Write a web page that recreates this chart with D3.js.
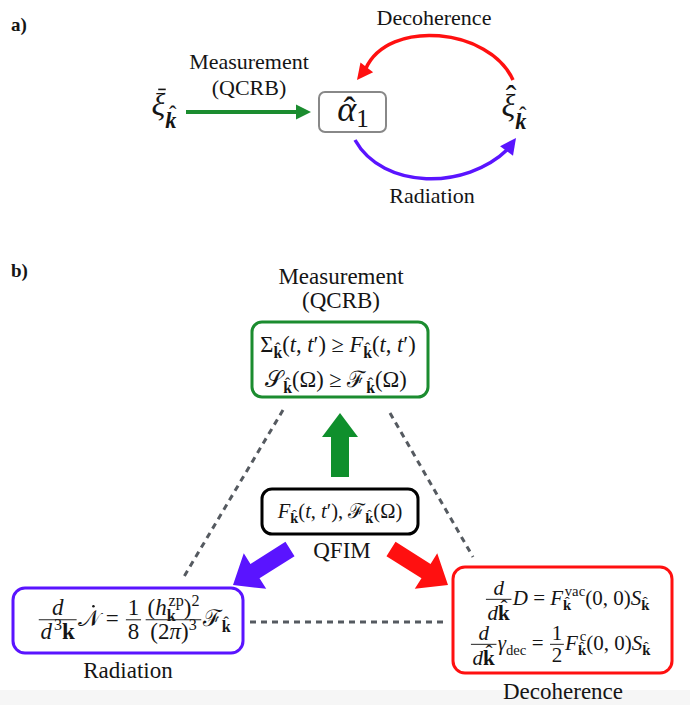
<!DOCTYPE html>
<html>
<head>
<meta charset="utf-8">
<script src="https://cdn.jsdelivr.net/npm/d3@7"></script>
<style>
body { margin: 0; background: #fff; }
svg { display: block; }
text { font-family: "Liberation Serif", "Times New Roman", serif; fill: #151515; white-space: pre; }
</style>
</head>
<body>
<svg width="690" height="705"></svg>
<script>
// labels
const panelLabels = ['a)', 'b)'];
const flowLabels = ['Measurement', '(QCRB)', 'Decoherence', 'Radiation'];
const qfimLabel = 'QFIM';

// subscript pieces
const K = [{s: 'k', b: true, hat: true}];
const Kb = [{s: 'k', b: true}];
const Kit = [{s: 'k', b: true, it: true, hat: true, hatDy: -0.28}];

// panel a symbols
const symAlpha = [{s: 'α', it: true, hat: true, hatDy: 0.02, sub: [{s: '1'}], subDy: 0.16}];
const symXiBar = [{s: 'ξ', it: true, bar: true, sub: Kit, subDy: 0.42}];
const symXiHat = [{s: 'ξ', it: true, hat: true, hatDy: -0.29, sub: Kit, subDy: 0.42}];

// panel b equations
const eqMeasure1 = [
  {s: 'Σ', sub: K}, {s: '('}, {s: 't', it: true}, {s: ', '}, {s: 't', it: true}, {s: '′)'}, {s: ' ≥ '},
  {s: 'F', it: true, sub: K}, {s: '('}, {s: 't', it: true}, {s: ', '}, {s: 't', it: true}, {s: '′)'}
];
const eqMeasure2 = [{s: '𝒮', sub: K}, {s: '(Ω) ≥ '}, {s: 'ℱ', sub: K}, {s: '(Ω)'}];
const eqQfim = [
  {s: 'F', it: true, sub: K}, {s: '('}, {s: 't', it: true}, {s: ', '}, {s: 't', it: true}, {s: '′), '},
  {s: 'ℱ', sub: K}, {s: '(Ω)'}
];
const eqRadiation = [
  {frac: [[{s: 'd', it: true}], [{s: 'd', it: true, sup: [{s: '3'}]}, {s: 'k', b: true}]]},
  {s: '𝒩', dot: true}, {s: ' = '},
  {frac: [[{s: '1'}], [{s: '8'}]]}, {sp: 0.08},
  {frac: [[{s: '('}, {s: 'h', it: true, sub: Kb, sup: [{s: 'zp'}]}, {s: ')', sup: [{s: '2'}]}],
          [{s: '(2'}, {s: 'π', it: true}, {s: ')', sup: [{s: '3'}]}]]},
  {s: 'ℱ', sub: K}
];
const eqDecoh1 = [
  {frac: [[{s: 'd', it: true}], [{s: 'd', it: true}, {s: 'k', b: true, hat: true}]], dd: 0.15},
  {s: 'D', it: true}, {s: ' = '},
  {s: 'F', it: true, sub: K, sup: [{s: 'vac'}]}, {s: '(0, 0)'}, {s: 'S', it: true, sub: K}
];
const eqDecoh2 = [
  {frac: [[{s: 'd', it: true}], [{s: 'd', it: true}, {s: 'k', b: true, hat: true}]], dd: 0.15},
  {s: 'γ', it: true, sub: [{s: 'dec'}]}, {s: ' = '},
  {frac: [[{s: '1'}], [{s: '2'}]]},
  {s: 'F', it: true, sub: K, sup: [{s: 'c'}]}, {s: '(0, 0)'}, {s: 'S', it: true, sub: K}
];

const GREEN = '#1b8c2f', PURPLE = '#5a14ff', RED = '#ff1010';

const svg = d3.select('svg');
svg.append('rect').attr('x', 0).attr('y', 690).attr('width', 690).attr('height', 15).attr('fill', '#f6f6f6');

// tiny math typesetter: draws tokens on baseline 0, returns width
function typeset(g, toks, fs) {
  let x = 0;
  toks.forEach(tk => {
    if (tk.sp) { x += tk.sp * fs; return; }
    if (tk.frac) {
      const ng = g.append('g'), dg = g.append('g');
      const nw = typeset(ng, tk.frac[0], fs), dw = typeset(dg, tk.frac[1], fs);
      const w = Math.max(nw, dw) + fs * 0.16;
      x += fs * 0.06;
      ng.attr('transform', `translate(${x + (w - nw) / 2},${-fs * 0.47})`);
      dg.attr('transform', `translate(${x + (w - dw) / 2},${fs * (0.58 + (tk.dd || 0))})`);
      g.append('line').attr('x1', x).attr('x2', x + w)
        .attr('y1', -fs * 0.27).attr('y2', -fs * 0.27)
        .attr('stroke', '#222').attr('stroke-width', Math.max(1, fs * 0.045));
      x += w + fs * 0.06;
      return;
    }
    const t = g.append('text').attr('x', x).attr('y', 0).attr('font-size', fs).text(tk.s);
    if (tk.it) t.style('font-style', 'italic');
    if (tk.b) t.style('font-weight', 'bold');
    const w = t.node().getComputedTextLength();
    const off = tk.it ? fs * 0.08 : 0;
    if (tk.hat) {
      g.append('text').attr('x', x + w / 2 + off).attr('y', (tk.hatDy ?? -0.24) * fs)
        .attr('font-size', fs).attr('text-anchor', 'middle').text('ˆ');
    }
    if (tk.dot) {
      g.append('circle').attr('cx', x + w * 0.7).attr('cy', -0.86 * fs).attr('r', fs * 0.055).attr('fill', '#151515');
    }
    if (tk.bar) {
      g.append('line').attr('x1', x + w * 0.3 + off).attr('x2', x + w * 0.85 + off)
        .attr('y1', -fs * 0.8).attr('y2', -fs * 0.8).attr('stroke', '#151515').attr('stroke-width', fs * 0.05);
    }
    x += w;
    let ext = 0;
    if (tk.sub) {
      const sg = g.append('g').attr('transform', `translate(${x},${(tk.subDy ?? 0.25) * fs})`);
      ext = typeset(sg, tk.sub, fs * 0.7);
    }
    if (tk.sup) {
      const pg = g.append('g').attr('transform', `translate(${x + off},${-0.42 * fs})`);
      ext = Math.max(ext, typeset(pg, tk.sup, fs * 0.7) + off);
    }
    x += ext;
  });
  return x;
}

function drawEq(toks, fs, cx, base) {
  const g = svg.append('g');
  const w = typeset(g, toks, fs);
  g.attr('transform', `translate(${cx - w / 2},${base})`);
}

function label(txt, x, y, fs, bold) {
  svg.append('text').attr('x', x).attr('y', y).attr('font-size', fs)
    .attr('text-anchor', bold ? 'start' : 'middle')
    .style('font-weight', bold ? 'bold' : 'normal').text(txt);
}

function box(x0, y0, x1, y1, color, r, sw) {
  svg.append('rect').attr('x', x0).attr('y', y0).attr('width', x1 - x0).attr('height', y1 - y0)
    .attr('rx', r).attr('fill', '#fff').attr('stroke', color).attr('stroke-width', sw);
}

function head(tip, from, len, hw, color) {
  const dx = tip[0] - from[0], dy = tip[1] - from[1], L = Math.hypot(dx, dy);
  const ux = dx / L, uy = dy / L, px = -uy, py = ux;
  const bx = tip[0] - ux * len, by = tip[1] - uy * len;
  svg.append('path').attr('fill', color)
    .attr('d', d3.line()([[tip[0], tip[1]], [bx + px * hw, by + py * hw], [bx - px * hw, by - py * hw]]) + 'Z');
  return [bx + ux * 2, by + uy * 2];
}

function blockArrow(tail, tip, sw, hw, hl, color) {
  const dx = tip[0] - tail[0], dy = tip[1] - tail[1], L = Math.hypot(dx, dy);
  const ux = dx / L, uy = dy / L, px = -uy, py = ux;
  const b = [tip[0] - ux * hl, tip[1] - uy * hl];
  const pts = [
    [tail[0] + px * sw / 2, tail[1] + py * sw / 2], [b[0] + px * sw / 2, b[1] + py * sw / 2],
    [b[0] + px * hw / 2, b[1] + py * hw / 2], tip,
    [b[0] - px * hw / 2, b[1] - py * hw / 2], [b[0] - px * sw / 2, b[1] - py * sw / 2],
    [tail[0] - px * sw / 2, tail[1] - py * sw / 2]
  ];
  svg.append('path').attr('fill', color).attr('d', d3.line()(pts) + 'Z');
}

// ---------- panel a ----------
label(panelLabels[0], 11, 31, 19, true);
label(flowLabels[0], 249, 69, 22);
label(flowLabels[1], 249, 95, 22);
label(flowLabels[2], 434, 25, 22);
label(flowLabels[3], 432, 203, 22);

// green straight arrow
const gEnd = head([311, 112], [186, 112], 15, 7.5, GREEN);
svg.append('line').attr('x1', 186).attr('x2', gEnd[0]).attr('y1', 112).attr('y2', 112)
  .attr('stroke', GREEN).attr('stroke-width', 4);

// decoherence arc (red) and radiation arc (purple)
const rC2 = [388, 40];
const rEnd = head([357, 80], rC2, 16, 8, RED);
svg.append('path').attr('fill', 'none').attr('stroke', RED).attr('stroke-width', 3.5)
  .attr('d', `M513,80 C490,28 ${rC2[0]},${rC2[1] - 22} ${rEnd[0]},${rEnd[1]}`);
const pC2 = [494, 168];
const pEnd = head([516, 138], pC2, 16, 8, PURPLE);
svg.append('path').attr('fill', 'none').attr('stroke', PURPLE).attr('stroke-width', 3.5)
  .attr('d', `M355,140 C383,190 ${pC2[0] - 28},${pC2[1] + 22} ${pEnd[0]},${pEnd[1]}`);

box(319, 92, 386, 132, '#888', 6, 2);
drawEq(symAlpha, 36, 353, 121);
drawEq(symXiBar, 32, 164, 115);
drawEq(symXiHat, 32, 514, 116);

// ---------- panel b ----------
label(panelLabels[1], 11, 277, 19, true);
label(flowLabels[0], 341, 284, 23);
label(flowLabels[1], 341, 308, 23);

// dashed triangle
const dash = [[[283, 410], [182, 580]], [[390, 413], [473, 557]], [[250, 622], [446, 622]]];
dash.forEach(d => svg.append('line')
  .attr('x1', d[0][0]).attr('y1', d[0][1]).attr('x2', d[1][0]).attr('y2', d[1][1])
  .attr('stroke', '#555a60').attr('stroke-width', 3).attr('stroke-dasharray', '6,5'));

box(252, 322, 428, 397, GREEN, 10, 3);
drawEq(eqMeasure1, 22.5, 338, 352);
drawEq(eqMeasure2, 22.5, 336, 387);

blockArrow([340, 477], [340, 413], 18, 36, 24, '#0f8f2c');
blockArrow([290, 549], [233, 585], 17, 42, 26, PURPLE);
blockArrow([391, 549], [448, 585], 17, 42, 26, RED);

box(262, 489, 418, 534, '#000', 10, 3);
drawEq(eqQfim, 20.5, 340, 518);
label(qfimLabel, 342, 558, 23);

box(13, 588, 243, 653, PURPLE, 12, 3);
drawEq(eqRadiation, 23, 134, 626);
label(flowLabels[3], 128, 678, 23);

box(453, 567, 672, 673, RED, 12, 3);
drawEq(eqDecoh1, 21, 567, 605);
drawEq(eqDecoh2, 21, 560, 650);
label(flowLabels[2], 563, 699, 23);
</script>
</body>
</html>
